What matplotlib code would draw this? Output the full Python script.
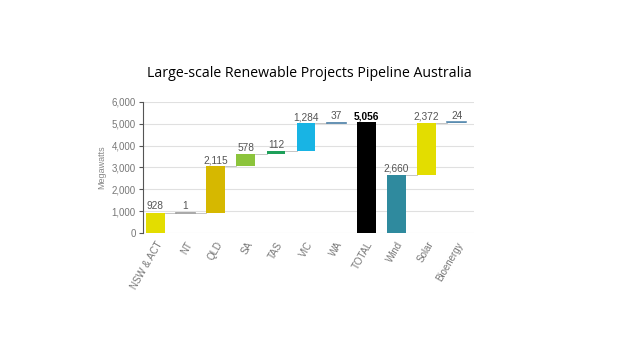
import matplotlib
matplotlib.use("Agg")
import matplotlib.pyplot as plt

categories = ["NSW & ACT", "NT", "QLD", "SA", "TAS", "VIC", "WA", "TOTAL", "Wind", "Solar", "Bioenergy"]
values = [928, 1, 2115, 578, 112, 1284, 37, 5056, 2660, 2372, 24]
is_total = [False, False, False, False, False, False, False, True, False, False, False]
colors = ["#e3dd00", "#9a9a9a", "#d6b800", "#8cc43c", "#1ea05a", "#18b4e4", "#4a7ea6",
          "#000000", "#2f8a9e", "#e3dd00", "#5a8cb0"]

bottoms = []
run = 0
for v, t in zip(values, is_total):
    if t:
        bottoms.append(0)
        run = 0
    else:
        bottoms.append(run)
        run += v

fig = plt.figure(figsize=(6.4, 3.6), dpi=100)
ax = fig.add_axes([0.223, 0.353, 0.518, 0.364])
x = list(range(len(categories)))
ax.bar(x, values, bottom=bottoms, width=0.62, color=colors, zorder=3)
for i, (v, b) in enumerate(zip(values, bottoms)):
    top = b + v
    if v < 40:
        ax.plot([i - 0.31, i + 0.31], [top, top], color=colors[i], lw=1.2, zorder=4)
    bold = is_total[i]
    ax.text(i, top + 60, f"{v:,}", ha="center", va="bottom", fontsize=7.3,
            color="#000000" if bold else "#555555", fontweight="bold" if bold else "normal",
            family="Liberation Sans")
    if i < len(values) - 1 and not is_total[i + 1] and not is_total[i]:
        ax.plot([i + 0.31, i + 0.69], [top, top], color="#bbbbbb", lw=0.6, zorder=2)
ax.set_xlim(-0.42, 10.58)
ax.set_ylim(0, 6000)
ax.set_yticks(range(0, 6001, 1000))
ax.set_yticklabels([f"{t:,}" for t in range(0, 6001, 1000)], fontsize=7, color="#777777", family="Liberation Sans")
ax.set_xticks(x)
ax.set_xticklabels(categories, rotation=60, ha="right", rotation_mode="anchor", fontsize=7,
                   color="#777777", family="Liberation Sans")
ax.tick_params(axis="x", length=0, pad=5)
ax.tick_params(axis="y", length=3, color="#555555", pad=2)
ax.grid(axis="y", color="#e0e0e0", lw=0.8, zorder=0)
for s in ["top", "right", "bottom"]:
    ax.spines[s].set_visible(False)
ax.spines["left"].set_color("#555555")
ax.spines["left"].set_linewidth(0.8)
ax.set_ylabel("Megawatts", fontsize=6.5, color="#888888", family="Liberation Sans", labelpad=4)
fig.text(0.484, 0.797, "Large-scale Renewable Projects Pipeline Australia", ha="center", va="center",
         fontsize=10.2, family="Open Sans", color="#000000")
fig.savefig("out.png", dpi=100)
